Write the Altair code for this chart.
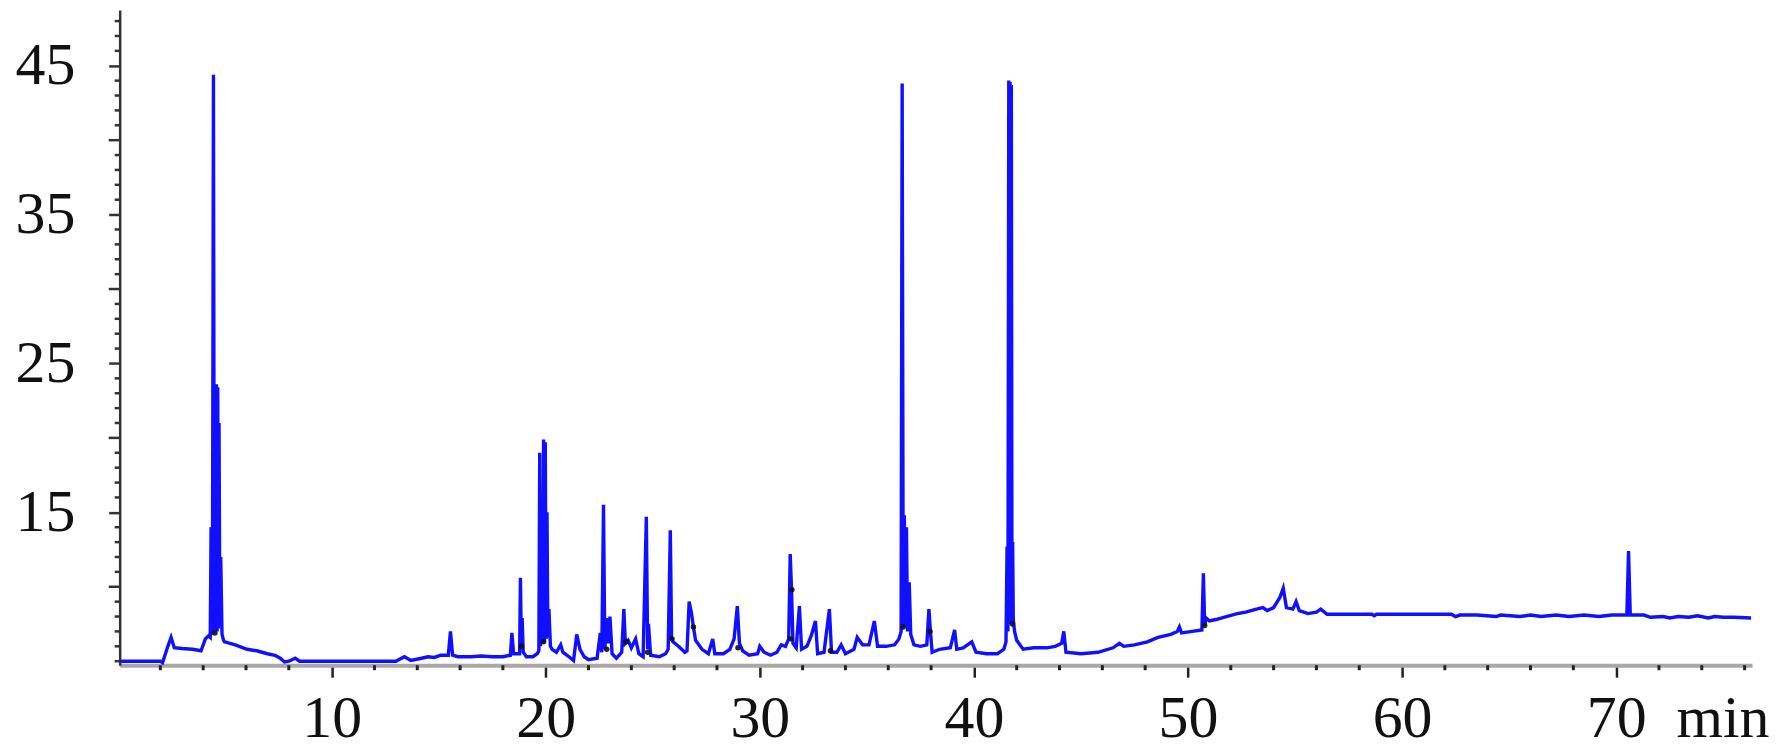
import altair as alt
import pandas as pd

# chromatogram trace (retention time in min, detector signal)
time_min = [
    0.1, 2.0, 2.1, 2.35, 2.5, 2.65, 3.0, 3.5, 3.9, 4.1, 4.25, 4.33,
    4.37, 4.40, 4.43, 4.48, 4.52, 4.56, 4.59, 4.62, 4.65, 4.68, 4.71, 4.74, 4.78, 4.82, 4.88,
    4.95, 5.0, 5.5, 6.05, 6.5, 7.0, 7.35, 7.6, 7.8, 8.0, 8.3, 8.5,
    13.0, 13.4, 13.7, 14.2, 14.5, 14.8, 15.1, 15.45, 15.55, 15.65, 15.9, 16.5, 17.0, 17.5, 18.0,
    18.35, 18.42, 18.5, 18.78, 18.82, 18.86, 18.9, 18.95, 19.1, 19.4, 19.6,
    19.68, 19.72, 19.76, 19.82, 19.86, 19.9, 19.94, 19.98, 20.02, 20.06, 20.1, 20.15, 20.22, 20.3,
    20.5, 20.7, 20.8, 21.0, 21.3, 21.45, 21.6, 21.8, 22.0, 22.4, 22.55, 22.62, 22.7, 22.76, 22.85,
    22.92, 23.0, 23.1, 23.3, 23.55, 23.65, 23.72, 23.85, 24.0, 24.2, 24.35, 24.55, 24.7, 24.76,
    24.8, 24.9, 25.3, 25.6, 25.72, 25.82, 25.88, 25.95, 26.2, 26.5, 26.6, 26.7, 26.8, 26.9, 27.0,
    27.3, 27.6, 27.8, 27.9, 28.3, 28.6, 28.8, 28.95, 29.05, 29.2, 29.5, 29.9, 30.0, 30.2, 30.5,
    30.8, 31.0, 31.2, 31.35, 31.42, 31.48, 31.55, 31.7, 31.85, 31.95, 32.2, 32.4, 32.6, 32.7,
    33.0, 33.25, 33.35, 33.6, 33.8, 34.0, 34.4, 34.55, 34.8, 35.1, 35.35, 35.5, 35.9, 36.3,
    36.5, 36.6, 36.65, 36.7, 36.75, 36.8, 36.85, 36.9, 36.98, 37.05, 37.2, 37.5, 37.8, 37.9,
    37.97, 38.05, 38.4, 38.9, 39.1, 39.2, 39.5, 39.9, 40.1, 40.6, 41.1, 41.4, 41.5, 41.55,
    41.59, 41.63, 41.66, 41.69, 41.72, 41.75, 41.78, 41.81, 41.84, 41.9, 42.0, 42.3, 42.8, 43.4,
    43.8, 44.1, 44.2, 44.3, 45.0, 45.8, 46.5, 46.8, 47.0, 47.5, 48.1, 48.6, 49.2, 49.5, 49.6,
    49.7, 50.2, 50.65, 50.72, 50.78, 50.85, 51.0, 51.3, 51.8, 52.3, 52.7, 53.2, 53.5, 53.7,
    54.0, 54.3, 54.45, 54.6, 54.9, 55.05, 55.2, 55.6, 56.0, 56.2, 56.5, 58.6, 58.7, 58.8, 62.3,
    62.5, 62.7, 63.5, 64.4, 64.6, 65.5, 66.0, 66.5, 67.2, 67.8, 68.5, 69.2, 69.8, 70.5, 70.58,
    70.66, 71.3, 71.6, 72.2, 72.5, 72.9, 73.4, 73.8, 74.3, 74.6, 75.0, 75.5, 76.3,
]
signal = [
    5.0, 5.0, 4.9, 6.0, 6.6, 5.9, 5.85, 5.8, 5.7, 6.5, 6.7, 6.6,
    14.0, 6.8, 7.0, 44.4, 7.0, 23.5, 7.0, 23.6, 7.0, 23.4, 7.2, 21.0, 7.4, 12.0, 6.8,
    6.4, 6.3, 6.1, 5.8, 5.7, 5.5, 5.4, 5.2, 4.95, 5.0, 5.2, 5.0,
    5.0, 5.3, 5.05, 5.2, 5.3, 5.25, 5.4, 5.4, 7.0, 5.4, 5.3, 5.3, 5.35, 5.3, 5.3,
    5.4, 6.9, 5.5, 5.5, 10.6, 6.0, 7.9, 5.6, 5.3, 5.3, 5.5,
    5.7, 19.0, 6.0, 13.0, 6.2, 19.9, 6.3, 19.7, 6.5, 15.0, 6.6, 8.5, 6.0, 5.8,
    5.6, 6.1, 5.6, 5.4, 5.05, 6.8, 5.8, 5.3, 5.1, 5.2, 6.9, 5.6, 15.5, 5.8, 7.9,
    6.2, 8.0, 5.5, 5.2, 5.6, 8.5, 6.2, 6.4, 5.9, 6.5, 5.5, 5.3, 14.7, 5.8,
    7.5, 5.4, 5.3, 5.5, 5.8, 13.8, 6.5, 6.3, 6.0, 5.6, 5.7, 9.0, 8.3, 7.3, 6.4,
    5.8, 5.5, 6.5, 5.5, 5.5, 5.8, 6.5, 8.7, 6.2, 5.7, 5.4, 5.5, 6.0, 5.6, 5.4,
    5.6, 6.1, 6.0, 6.5, 12.2, 9.9, 6.2, 5.9, 8.7, 5.8, 6.0, 6.7, 7.7, 5.5,
    5.6, 8.5, 5.6, 5.6, 6.1, 5.5, 5.8, 6.6, 6.1, 6.1, 7.7, 6.0, 6.0, 6.1,
    6.5, 7.0, 43.8, 7.3, 14.8, 7.3, 14.0, 7.0, 10.3, 6.8, 6.1, 6.0, 6.1, 8.5,
    7.0, 5.6, 5.8, 5.9, 7.1, 5.8, 5.9, 6.3, 5.6, 5.5, 5.5, 5.8, 6.3, 12.7,
    7.0, 44.0, 7.5, 43.9, 7.6, 43.7, 7.8, 13.0, 7.8, 7.0, 6.4, 5.8, 5.9, 5.9,
    6.0, 6.2, 7.0, 5.6, 5.5, 5.6, 5.9, 6.2, 6.0, 6.1, 6.3, 6.6, 6.8, 7.0, 7.3,
    6.9, 7.0, 7.1, 10.9, 7.4, 7.9, 7.7, 7.8, 8.0, 8.2, 8.3, 8.5, 8.6, 8.4,
    8.6, 9.3, 9.9, 8.6, 8.5, 9.0, 8.4, 8.2, 8.3, 8.5, 8.15, 8.15, 8.05, 8.15, 8.15,
    8.0, 8.1, 8.1, 8.0, 8.1, 8.0, 8.1, 8.0, 8.1, 8.0, 8.1, 8.0, 8.1, 8.1, 12.4,
    8.1, 8.1, 7.95, 8.0, 7.9, 8.0, 7.95, 8.05, 7.9, 8.0, 7.95, 7.95, 7.9,
]

# integration marks at peak bases
marker_time = [4.55, 18.86, 19.9, 22.85, 23.75, 24.76, 25.9, 26.9, 28.98, 31.45, 31.5,
               33.3, 36.7, 37.95, 41.8, 50.78]
marker_signal = [6.9, 6.0, 6.3, 5.8, 6.3, 5.6, 6.5, 7.3, 5.9, 6.5, 9.8,
                 5.7, 7.3, 7.0, 7.5, 7.4]

# axis ticks
x_label_values = [10, 20, 30, 40, 50, 60, 70]
x_minor_ticks = [2, 4, 6, 8, 12, 14, 16, 18, 22, 24, 26, 28, 32, 34, 36, 38,
                 42, 44, 46, 48, 52, 54, 56, 58, 62, 64, 66, 68, 72, 74, 76]
y_label_values = [15, 25, 35, 45]
y_major_ticks = [10, 20, 30, 40]
y_minor_ticks = [5, 6, 7, 8, 9, 11, 12, 13, 14, 16, 17, 18, 19, 21, 22, 23, 24,
                 26, 27, 28, 29, 31, 32, 33, 34, 36, 37, 38, 39, 41, 42,
                 43, 44, 46, 47, 48]

W, H = 1637, 657
FONT = "Liberation Serif"

trace = pd.DataFrame({"t": time_min, "v": signal})
marks = pd.DataFrame({"t": marker_time, "v": marker_signal})
xmin = pd.DataFrame({"t": x_minor_ticks})
ymaj = pd.DataFrame({"v": y_major_ticks})
ymin = pd.DataFrame({"v": y_minor_ticks})

xscale = alt.Scale(domain=[0.1, 76.35], nice=False, zero=False)
yscale = alt.Scale(domain=[4.73, 48.74], nice=False, zero=False)

line = alt.Chart(trace).mark_line(color="#1010ff", strokeWidth=3.4, clip=True).encode(
    x=alt.X("t:Q", scale=xscale, axis=alt.Axis(
        values=x_label_values,
        labelOverlap=False, labelFlush=False,
        tickSize=12, tickWidth=2.5, tickColor="#222222",
        domainColor="#a8a8a8", domainWidth=4,
        labelFont=FONT, labelFontSize=60, labelColor="#111111",
        labelBaseline="alphabetic", labelPadding=59,
        grid=False,
        title="min", titleFont=FONT, titleFontSize=60, titleFontWeight="normal",
        titleColor="#111111", titleX=W + 17, titleY=71, titleAlign="right",
        titleBaseline="alphabetic", titleAngle=0,
    )),
    y=alt.Y("v:Q", scale=yscale, axis=alt.Axis(
        values=y_label_values,
        labelOverlap=False, labelFlush=False,
        tickSize=11, tickWidth=2.5, tickColor="#333333",
        domainColor="#333333", domainWidth=2.5,
        labelFont=FONT, labelFontSize=60, labelColor="#111111",
        labelPadding=34, grid=False, title=None,
    )),
)

pts = alt.Chart(marks).mark_point(filled=True, color="#111111", size=30, opacity=0.9).encode(
    x=alt.X("t:Q", scale=xscale),
    y=alt.Y("v:Q", scale=yscale),
)

xticks_minor = alt.Chart(xmin).mark_rule(color="#222222", strokeWidth=3).encode(
    x=alt.X("t:Q", scale=xscale),
    y=alt.value(H),
    y2=alt.value(H + 5),
)

yticks_major = alt.Chart(ymaj).mark_rule(color="#333333", strokeWidth=2.5).encode(
    y=alt.Y("v:Q", scale=yscale),
    x=alt.value(-11),
    x2=alt.value(0),
)

yticks_minor = alt.Chart(ymin).mark_rule(color="#333333", strokeWidth=2.5).encode(
    y=alt.Y("v:Q", scale=yscale),
    x=alt.value(-5),
    x2=alt.value(0),
)

chart = alt.layer(line, pts, xticks_minor, yticks_major, yticks_minor).properties(
    width=W, height=H,
    padding={"left": 112, "top": 1, "right": 30, "bottom": 100},
    autosize=alt.AutoSizeParams(type="none"),
    background="white",
).configure_view(stroke=None)

chart.save("out.html", embed_options={"renderer": "svg", "actions": False})
